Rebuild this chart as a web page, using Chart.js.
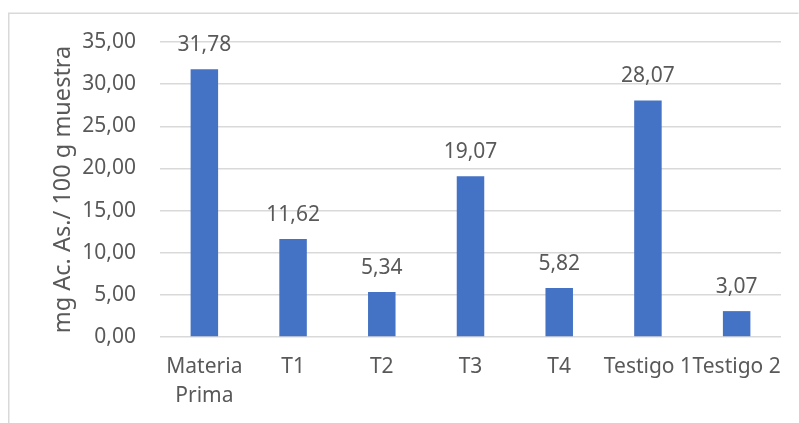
<!DOCTYPE html>
<html lang="es">
<head>
    <meta charset="UTF-8">
    <title>mg Ac. As. / 100 g muestra</title>
    <script src="https://cdn.jsdelivr.net/npm/chart.js"></script>
    <style>
        html, body { margin: 0; padding: 0; background: #fff; overflow: hidden; }
        canvas { display: block; }
    </style>
</head>
<body>
    <canvas id="acChart" width="799" height="423"></canvas>

    <script>
        // Muestras y contenido de ácido ascórbico
        const categories = [['Materia', 'Prima'], 'T1', 'T2', 'T3', 'T4', 'Testigo 1', 'Testigo 2'];
        const values = [31.78, 11.62, 5.34, 19.07, 5.82, 28.07, 3.07];
        const yTicks = { min: 0, max: 35, step: 5 };
        const yTitle = 'mg Ac. As./ 100 g muestra';

        const textColor = '#595959';
        const gridColor = '#d9d9d9';
        const barColor = '#4472C4';
        const fontFamily = '"Noto Sans", "DejaVu Sans", sans-serif';

        const fmt = v => Number(v).toFixed(2).replace('.', ',');

        // marco del gráfico (solo se ven los bordes izquierdo y superior)
        const framePlugin = {
            id: 'frame',
            beforeDraw(chart) {
                const ctx = chart.ctx;
                ctx.save();
                ctx.strokeStyle = gridColor;
                ctx.lineWidth = 1.5;
                ctx.beginPath();
                ctx.moveTo(8.75, chart.height + 5);
                ctx.lineTo(8.75, 13.25);
                ctx.lineTo(chart.width - 0.5, 13.25);
                ctx.stroke();
                ctx.restore();
            }
        };

        // etiquetas de valor encima de cada barra
        const valueLabels = {
            id: 'valueLabels',
            afterDatasetsDraw(chart) {
                const ctx = chart.ctx;
                const meta = chart.getDatasetMeta(0);
                ctx.save();
                ctx.fillStyle = textColor;
                ctx.font = '21px ' + fontFamily;
                ctx.textAlign = 'center';
                ctx.textBaseline = 'alphabetic';
                meta.data.forEach((bar, i) => {
                    ctx.fillText(fmt(values[i]), bar.x, bar.y - 18);
                });
                ctx.restore();
            }
        };

        const ctx = document.getElementById('acChart').getContext('2d');
        new Chart(ctx, {
            type: 'bar',
            data: {
                labels: categories,
                datasets: [{
                    data: values,
                    backgroundColor: barColor,
                    borderWidth: 0,
                    categoryPercentage: 1,
                    barPercentage: 0.31
                }]
            },
            options: {
                responsive: false,
                animation: false,
                events: [],
                layout: { padding: { top: 42, right: 18, bottom: 0, left: 0 } },
                plugins: {
                    legend: { display: false },
                    tooltip: { enabled: false }
                },
                scales: {
                    x: {
                        grid: { display: false, drawTicks: false },
                        border: { display: false },
                        ticks: {
                            color: textColor,
                            font: { family: fontFamily, size: 21, lineHeight: 1.38 },
                            padding: 16,
                            maxRotation: 0,
                            minRotation: 0,
                            autoSkip: false
                        },
                        afterFit(scale) { scale.height = 86; }
                    },
                    y: {
                        min: yTicks.min,
                        max: yTicks.max,
                        grid: { color: gridColor, lineWidth: 1.5, drawTicks: false },
                        border: { display: false },
                        ticks: {
                            stepSize: yTicks.step,
                            color: textColor,
                            font: { family: fontFamily, size: 21 },
                            padding: 24,
                            callback: v => fmt(v)
                        },
                        title: {
                            display: true,
                            text: yTitle,
                            color: textColor,
                            font: { family: fontFamily, size: 23.5 },
                            padding: { top: 49, bottom: 0 }
                        },
                        afterFit(scale) { scale.width = 160; }
                    }
                }
            },
            plugins: [framePlugin, valueLabels]
        });
    </script>
</body>
</html>
